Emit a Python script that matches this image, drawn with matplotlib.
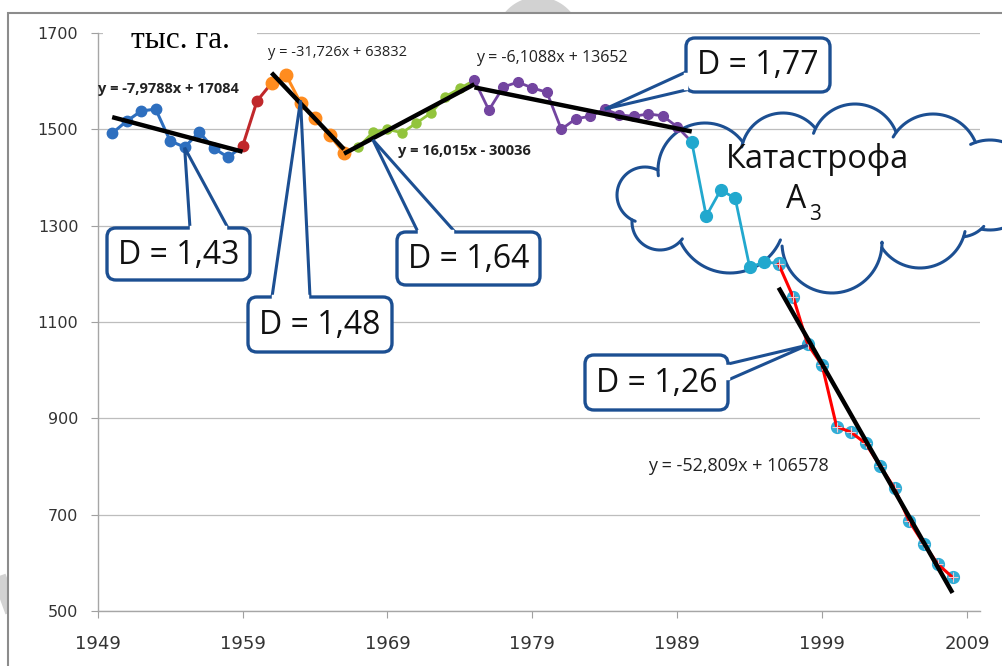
import numpy as np
import matplotlib
matplotlib.use("Agg")
import matplotlib.pyplot as plt
from matplotlib.transforms import Affine2D
from matplotlib.patches import FancyBboxPatch, Polygon, Rectangle
from matplotlib.lines import Line2D

W, H = 1003, 666

# ---------------- data ----------------
years_blue = [1950, 1951, 1952, 1953, 1954, 1955, 1956, 1957, 1958]
vals_blue = [1492, 1517, 1538, 1542, 1476, 1463, 1494, 1461, 1442]
years_red = [1959, 1960]
vals_red = [1465, 1559]
years_orange = [1961, 1962, 1963, 1964, 1965, 1966]
vals_orange = [1596, 1613, 1555, 1523, 1488, 1451]
years_green = [1967, 1968, 1969, 1970, 1971, 1972, 1973, 1974]
vals_green = [1463, 1494, 1500, 1493, 1513, 1534, 1568, 1585]
years_purple = list(range(1975, 1990))
vals_purple = [1602, 1540, 1588, 1598, 1586, 1577, 1500, 1522, 1527, 1542,
               1530, 1527, 1532, 1528, 1505]
years_cyan = list(range(1990, 1997))
vals_cyan = [1474, 1320, 1374, 1357, 1214, 1224, 1222]
years_last = list(range(1996, 2009))
vals_last = [1220, 1152, 1054, 1010, 883, 871, 848, 801, 755, 687, 640, 597, 570]

trend_slope = [-7.9788, -31.726, 16.015, -6.1088, -52.809]
trend_icpt = [17084, 63832, -30036, 13652, 106578]
trend_x0 = [1950, 1961, 1966, 1975, 1996]
trend_x1 = [1959, 1966, 1975, 1990, 2008]
trend_labels = ["y = -7,9788x + 17084", "y = -31,726x + 63832",
                "y = 16,015x - 30036", "y = -6,1088x + 13652",
                "y = -52,809x + 106578"]

d_labels = ["D = 1,43", "D = 1,48", "D = 1,64", "D = 1,77", "D = 1,26"]
d_tips = [(1955, 1462), (1963, 1560), (1968, 1478), (1984, 1542), (1998, 1052)]

xticks = [1949, 1959, 1969, 1979, 1989, 1999, 2009]
yticks = [500, 700, 900, 1100, 1300, 1500, 1700]

# ---------------- figure ----------------
fig = plt.figure(figsize=(W / 100, H / 100), dpi=100)
px = Affine2D().scale(1.0 / W, -1.0 / H).translate(0, 1) + fig.transFigure

# background: watermark + chart area
bg = fig.add_axes([0, 0, 1, 1], zorder=-10)
bg.set_xlim(0, W)
bg.set_ylim(H, 0)
bg.axis("off")
t = np.linspace(np.pi * 0.98, np.pi * 0.02, 60)
bg.plot(538 + 34 * np.cos(t), 40 - 34 * np.sin(t), color="#d2d2d2", lw=13,
        solid_capstyle="butt", zorder=1)
bg.plot([-5, 12], [565, 612], color="#d2d2d2", lw=10, solid_capstyle="butt",
        zorder=1)
bg.add_patch(Rectangle((8, 13), 1100, 800, facecolor="white",
                       edgecolor="#8c8c8c", lw=1.5, zorder=5))

L, R = 97.7, 980.0
T, B = 33.0, 611.0
ax = fig.add_axes([L / W, 1 - B / H, (R - L) / W, (B - T) / H], zorder=1)
ax.set_facecolor("none")
ax.set_xlim(1949, 1949 + (R - L) / ((967.0 - L) / 60))
ax.set_ylim(500, 1700)
ax.set_xticks(xticks)
ax.set_yticks(yticks)
ax.set_xticklabels([str(v) for v in xticks],
                   fontfamily=["Liberation Sans Narrow", "DejaVu Sans"],
                   fontsize=13, color="#333333")
ax.set_yticklabels([str(v) for v in yticks], fontfamily="DejaVu Sans",
                   fontsize=11.5, color="#333333")
ax.tick_params(axis="x", direction="out", length=5, color="#a0a0a0", pad=12)
ax.tick_params(axis="y", direction="out", length=5, color="#a0a0a0", pad=9)
for s in ["top", "right"]:
    ax.spines[s].set_visible(False)
for s in ["left", "bottom"]:
    ax.spines[s].set_color("#a6a6a6")
    ax.spines[s].set_linewidth(1.0)
ax.set_axisbelow(True)
ax.grid(axis="y", color="#bdbdbd", lw=0.9)


def series(xs, ys, nx, ny, color, ms, lw, z):
    lx = list(xs) + ([nx] if nx is not None else [])
    ly = list(ys) + ([ny] if ny is not None else [])
    ax.plot(lx, ly, color=color, lw=lw, zorder=z, solid_capstyle="round")
    ax.plot(xs, ys, ls="none", marker="o", ms=ms, color=color, mec=color,
            zorder=z + 0.1)


series(years_blue, vals_blue, years_red[0], vals_red[0], "#2E6FBF", 7.5, 2.2, 3)
series(years_red, vals_red, years_orange[0], vals_orange[0], "#C0282B", 7.5, 2.2, 3.2)
series(years_orange, vals_orange, years_green[0], vals_green[0], "#FF8C1F", 9, 2.2, 3.4)
series(years_green, vals_green, years_purple[0], vals_purple[0], "#92C43C", 6.5, 2.0, 3.6)
series(years_purple, vals_purple, years_cyan[0], vals_cyan[0], "#7345A0", 7, 2.0, 3.8)
series(years_cyan, vals_cyan, None, None, "#22A8CE", 8.5, 2.0, 4.0)
ax.plot(years_last, vals_last, ls="none", marker="o", ms=8.5, color="#31ADD6",
        mec="#31ADD6", zorder=4.2)
ax.plot(years_last, vals_last, color="#FF0000", lw=2.2, zorder=4.4)
ax.plot(years_last, vals_last, ls="none", marker="+", ms=7, mew=0.8,
        color="#f4c8d0", zorder=4.5)

for k in range(len(trend_slope)):
    xs = np.array([trend_x0[k], trend_x1[k]], dtype=float)
    ax.plot(xs, trend_slope[k] * xs + trend_icpt[k], color="black", lw=3.2,
            zorder=6, solid_capstyle="butt")

# ---------------- cloud ----------------
blue_edge = "#1C4F92"
outer = [(645, 195, 28), (705, 170, 47), (783, 155, 42), (855, 148, 44),
         (933, 160, 46), (990, 185, 45), (960, 205, 32), (920, 222, 46),
         (832, 243, 50), (730, 218, 55), (660, 222, 28)]
ecx, ecy, ea, eb = 815, 195, 160, 52
th = np.linspace(0, 2 * np.pi, 721)
for i, (cx, cy, r) in enumerate(outer):
    xs = cx + r * np.cos(th)
    ys = cy + r * np.sin(th)
    inside = ((xs - ecx) / ea) ** 2 + ((ys - ecy) / eb) ** 2 < 1
    for j, (cx2, cy2, r2) in enumerate(outer):
        if j == i:
            continue
        inside |= (xs - cx2) ** 2 + (ys - cy2) ** 2 < r2 ** 2
    vis = ~inside
    ext = vis.copy()
    for s in range(1, 15):
        ext |= np.roll(vis, -s)
    xx = np.where(ext, xs, np.nan)
    yy = np.where(ext, ys, np.nan)
    ax.add_line(Line2D(xx, yy, transform=px, color=blue_edge, lw=2.2,
                       clip_on=False, zorder=2.5, solid_capstyle="round"))

ax.text(818, 160, "Катастрофа", transform=px, fontfamily="Open Sans",
        fontsize=23.5, ha="center", va="center", zorder=8, color="#111111")
ax.text(796, 199, "А", transform=px, fontfamily="Open Sans", fontsize=23,
        ha="center", va="center", zorder=8, color="#111111")
ax.text(815, 214, "3", transform=px, fontfamily="Open Sans", fontsize=15,
        ha="center", va="center", zorder=8, color="#111111")

# ---------------- callouts ----------------
boxes = [(107, 228, 143, 52), (248, 297, 144, 55), (397, 232, 143, 53),
         (686, 38, 144, 54), (585, 355, 143, 55)]
bases = [((190, 228), (228, 228)), ((272, 297), (310, 297)),
         ((418, 232), (455, 232)), ((686, 72), (686, 90)),
         ((728, 364), (728, 380))]
inv = px.inverted()
for k in range(len(d_labels)):
    tip = inv.transform(ax.transData.transform(d_tips[k]))
    b1, b2 = bases[k]
    ax.add_patch(Polygon([b1, tuple(tip), b2], closed=True, transform=px,
                         facecolor="white", edgecolor=blue_edge, lw=2.2,
                         clip_on=False, zorder=10, joinstyle="miter"))
    x0, y0, w, h = boxes[k]
    ax.add_patch(FancyBboxPatch((x0, y0), w, h,
                                boxstyle="round,pad=0,rounding_size=9",
                                transform=px, facecolor="white",
                                edgecolor=blue_edge, lw=2.4, clip_on=False,
                                zorder=11))
    if b1[1] == b2[1]:
        seg = ([b1[0] + 2.5, b2[0] - 2.5], [b1[1], b2[1]])
    else:
        seg = ([b1[0], b2[0]], [b1[1] + 2.5, b2[1] - 2.5])
    ax.add_line(Line2D(seg[0], seg[1], transform=px, color="white", lw=3.2,
                       clip_on=False, zorder=12))
    ax.text(x0 + w / 2, y0 + h / 2 + 1, d_labels[k], transform=px,
            fontfamily="Open Sans", fontsize=23, ha="center", va="center",
            zorder=13, color="#111111")

# ---------------- texts ----------------
ax.add_patch(Rectangle((103, 20), 154, 34, transform=px, facecolor="white",
                       edgecolor="none", clip_on=False, zorder=1.2))
ax.text(180, 40, "тыс. га.", transform=px, fontfamily="Liberation Serif",
        fontsize=22.5, ha="center", va="center", zorder=9, color="black")

eq_pos = [(98, 89), (268, 53), (398, 151), (476, 58), (648, 466)]
eq_size = [10.5, 10.5, 10.5, 11.5, 13]
eq_bold = [True, False, True, False, False]
for k in range(len(trend_labels)):
    ax.text(eq_pos[k][0], eq_pos[k][1], trend_labels[k], transform=px,
            fontfamily="Open Sans", fontsize=eq_size[k],
            fontweight="bold" if eq_bold[k] else "normal", ha="left",
            va="center", zorder=9, color="#222222")

fig.savefig("out.png", dpi=100)
